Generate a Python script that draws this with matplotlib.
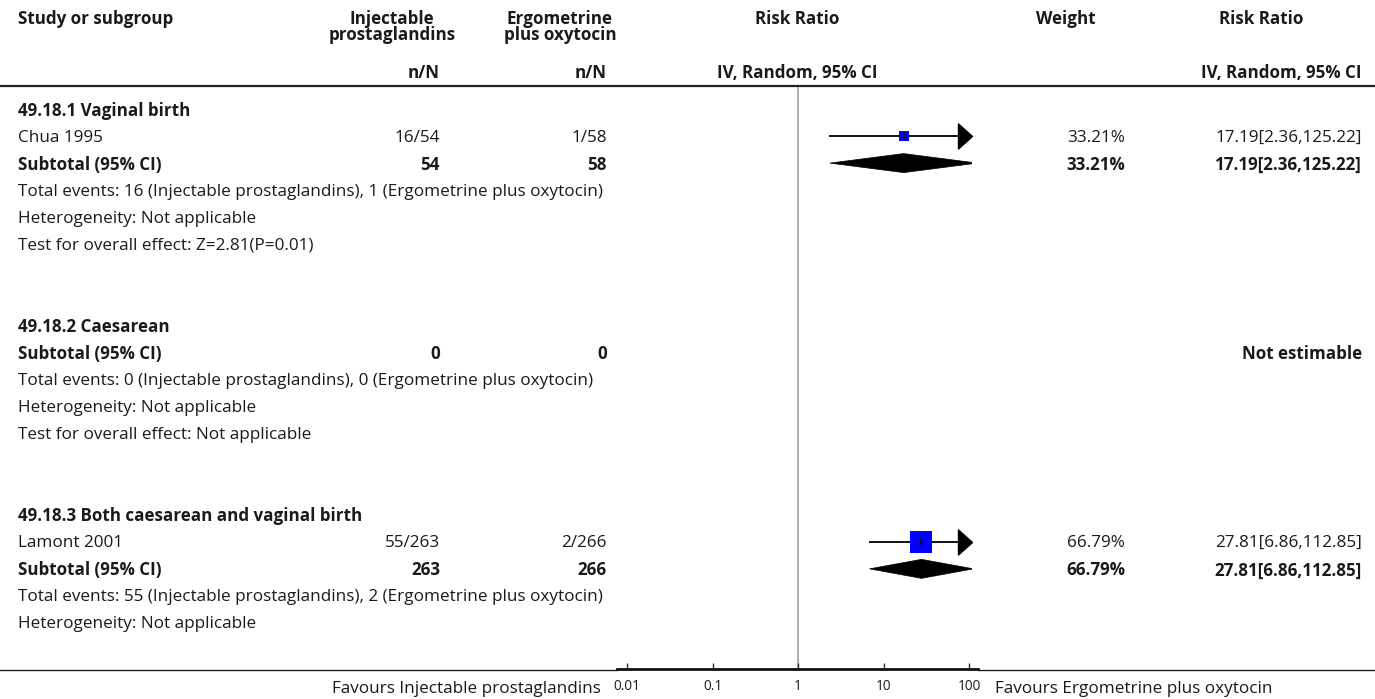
import numpy as np
import matplotlib
matplotlib.use("Agg")
import matplotlib.pyplot as plt
from matplotlib.path import Path
from matplotlib.patches import Polygon, Rectangle

plt.rcParams['font.family'] = ['Open Sans', 'DejaVu Sans']

# ---------------- data ----------------
groups = ["49.18.1 Vaginal birth", "49.18.2 Caesarean", "49.18.3 Both caesarean and vaginal birth"]
study_names = ["Chua 1995", "Lamont 2001"]
study_group = [0, 2]
events_tx = [16, 55]
total_tx = [54, 263]
events_ctl = [1, 2]
total_ctl = [58, 266]
study_rr = [17.19, 27.81]
study_lo = [2.36, 6.86]
study_hi = [125.22, 112.85]
study_weight = [33.21, 66.79]

sub_tx = [54, 0, 263]
sub_ctl = [58, 0, 266]
sub_events_tx = [16, 0, 55]
sub_events_ctl = [1, 0, 2]
sub_rr = [17.19, None, 27.81]
sub_lo = [2.36, None, 6.86]
sub_hi = [125.22, None, 112.85]
sub_weight = [33.21, None, 66.79]
sub_het = ["Not applicable", "Not applicable", "Not applicable"]
sub_test = ["Z=2.81(P=0.01)", "Not applicable", None]

tick_vals = [0.01, 0.1, 1, 10, 100]
tick_labels = ["0.01", "0.1", "1", "10", "100"]
label_tx = "Injectable prostaglandins"
label_ctl = "Ergometrine plus oxytocin"

# ---------------- layout ----------------
W, H = 1375, 699
fig = plt.figure(figsize=(W / 100, H / 100), dpi=100)
renderer = fig.canvas.get_renderer()


def fit_size(s, target_px, weight='normal', base=10.0):
    t = fig.text(0, 0, s, fontsize=base, fontweight=weight)
    w = t.get_window_extent(renderer).width
    t.remove()
    return base * target_px / w


FS = fit_size("Total events: 16 (Injectable prostaglandins), 1 (Ergometrine plus oxytocin)", 582)
FSB = fit_size("Subtotal (95% CI)", 144, weight='bold')
FS_FOOT = fit_size("Favours Ergometrine plus oxytocin", 276)
FS_TICK = fit_size("0.01", 27)

ax = fig.add_axes([0, 0, 1, 1])
ax.set_xlim(0, W)
ax.set_ylim(H, 0)
ax.axis('off')

TXT = '#1a1a1a'

x_left = 18
x_ntx = 440
x_nctl = 607
x_w = 1125
x_rr = 1362
x_mid = 797

ROW0, DY = 109, 27.05
YOFF = 1.5
AX_L, AX_R = 617, 978
AX_TOP, AX_BOT = 87, 669


def reg(x, y, s, ha='left'):
    ax.text(x, y + YOFF, s, fontsize=FS, va='center', ha=ha, color=TXT)


def bold(x, y, s, ha='left'):
    ax.text(x, y + YOFF, s, fontsize=FSB, fontweight='bold', va='center', ha=ha, color=TXT)


# header
bold(x_left, 17, "Study or subgroup")
bold(392, 17, "Injectable", 'center')
bold(392, 34, "prostaglandins", 'center')
bold(560, 17, "Ergometrine", 'center')
bold(560, 34, "plus oxytocin", 'center')
bold(x_mid, 17, "Risk Ratio", 'center')
bold(1066, 17, "Weight", 'center')
bold(1261, 17, "Risk Ratio", 'center')
bold(x_ntx, 72, "n/N", 'right')
bold(x_nctl, 72, "n/N", 'right')
bold(x_mid, 72, "IV, Random, 95% CI", 'center')
bold(x_rr, 72, "IV, Random, 95% CI", 'right')
ax.plot([0, W], [86, 86], color='#222222', lw=1.6, solid_capstyle='butt')

# forest axes
decade = (969 - 627) / 4.0
xmin = 10 ** (-2 - (627 - AX_L) / decade)
xmax = 10 ** (2 + (AX_R - 969) / decade)
fx = fig.add_axes([AX_L / W, (H - AX_BOT) / H, (AX_R - AX_L) / W, (AX_BOT - AX_TOP) / H])
fx.set_xscale('log')
fx.set_xlim(xmin, xmax)
fx.set_ylim(AX_BOT, AX_TOP)
fx.patch.set_alpha(0)
for s in ['top', 'left', 'right']:
    fx.spines[s].set_visible(False)
fx.spines['bottom'].set_linewidth(2.0)
fx.spines['bottom'].set_color('#111111')
fx.set_yticks([])
fx.set_xticks(tick_vals)
fx.set_xticklabels(tick_labels)
fx.minorticks_off()
fx.tick_params(axis='x', direction='in', length=4, width=1, colors='#333333',
               labelsize=FS_TICK, pad=7, labelcolor=TXT)
fx.axvline(1, color='#9a9a9a', lw=1.1, zorder=1)

# thin full-width bottom line
ax.plot([0, AX_L], [AX_BOT + 1, AX_BOT + 1], color='#222222', lw=1.0)
ax.plot([AX_R, W], [AX_BOT + 1, AX_BOT + 1], color='#222222', lw=1.0)

ax.text(601, 689, "Favours " + label_tx, fontsize=FS_FOOT, va='center', ha='right', color=TXT)
ax.text(995, 689, "Favours " + label_ctl, fontsize=FS_FOOT, va='center', ha='left', color=TXT)

arrow_path = Path([(-0.44, -0.5), (0.12, 0.0), (-0.44, 0.5), (-0.44, -0.5)],
                  [Path.MOVETO, Path.LINETO, Path.LINETO, Path.CLOSEPOLY])
clip_x = 10 ** (2 + 3 / decade)


def draw_study(y, rr, lo, hi, w):
    right = min(hi, 100)
    fx.plot([lo, right], [y, y], color='#111111', lw=1.4, zorder=3)
    if hi > 100:
        fx.plot([100], [y], marker=arrow_path, markersize=18, color='black', zorder=4)
    side_pt = w * 0.33 * 0.72
    fx.plot([rr], [y], marker='s', markersize=side_pt, color='#0000ff', markeredgewidth=0, zorder=4)
    fx.plot([rr], [y], marker='|', markersize=6, markeredgewidth=1.3, color='#111111', zorder=5)


def draw_diamond(y, rr, lo, hi):
    hh = 9.5
    poly = Polygon([(lo, y), (rr, y - hh), (hi, y), (rr, y + hh)], closed=True,
                   facecolor='black', edgecolor='black', lw=0.5, zorder=4)
    fx.add_patch(poly)
    clip = Rectangle((xmin, AX_TOP), clip_x - xmin, AX_BOT - AX_TOP, transform=fx.transData)
    poly.set_clip_path(clip)


row = 0
for g, gname in enumerate(groups):
    y = ROW0 + DY * row
    bold(x_left, y, gname)
    row += 1
    for i, sname in enumerate(study_names):
        if study_group[i] != g:
            continue
        y = ROW0 + DY * row
        reg(x_left, y, sname)
        reg(x_ntx, y, f"{events_tx[i]}/{total_tx[i]}", 'right')
        reg(x_nctl, y, f"{events_ctl[i]}/{total_ctl[i]}", 'right')
        reg(x_w, y, f"{study_weight[i]:.2f}%", 'right')
        reg(x_rr, y, f"{study_rr[i]:.2f}[{study_lo[i]:.2f},{study_hi[i]:.2f}]", 'right')
        draw_study(y, study_rr[i], study_lo[i], study_hi[i], study_weight[i])
        row += 1
    y = ROW0 + DY * row
    bold(x_left, y, "Subtotal (95% CI)")
    bold(x_ntx, y, f"{sub_tx[g]}", 'right')
    bold(x_nctl, y, f"{sub_ctl[g]}", 'right')
    if sub_rr[g] is None:
        bold(x_rr, y, "Not estimable", 'right')
    else:
        bold(x_w, y, f"{sub_weight[g]:.2f}%", 'right')
        bold(x_rr, y, f"{sub_rr[g]:.2f}[{sub_lo[g]:.2f},{sub_hi[g]:.2f}]", 'right')
        draw_diamond(y, sub_rr[g], sub_lo[g], sub_hi[g])
    row += 1
    y = ROW0 + DY * row
    reg(x_left, y, f"Total events: {sub_events_tx[g]} ({label_tx}), {sub_events_ctl[g]} ({label_ctl})")
    row += 1
    y = ROW0 + DY * row
    reg(x_left, y, f"Heterogeneity: {sub_het[g]}")
    row += 1
    if sub_test[g] is not None:
        y = ROW0 + DY * row
        reg(x_left, y, f"Test for overall effect: {sub_test[g]}")
        row += 1
        row += 2

fig.savefig("out.png", dpi=100)
